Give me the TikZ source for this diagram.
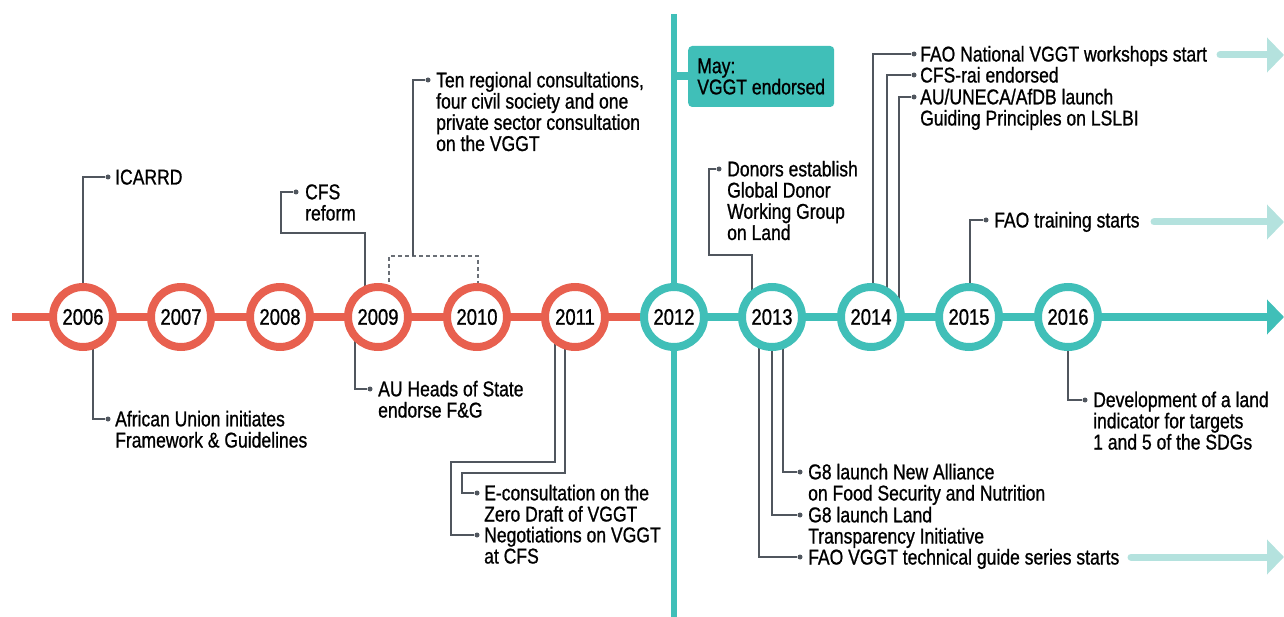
\documentclass[tikz,border=0pt]{standalone}
\usepackage{fontspec}
\setmainfont{Liberation Sans}[FakeStretch=0.82,FakeBold=0.9]
\usetikzlibrary{arrows.meta}
\definecolor{tred}{HTML}{E8604F}
\definecolor{tteal}{HTML}{40BFB8}
\definecolor{tlight}{HTML}{B4E2DE}
\definecolor{tconn}{HTML}{50565E}
\newcommand\labfont{\fontsize{21.4}{21.2}\selectfont}
\newcommand\yrfont{\fontsize{22.5}{22}\selectfont}
\pgfdeclarelayer{bg}\pgfsetlayers{bg,main}
\begin{document}
\begin{tikzpicture}[x=1pt,y=-1pt,
 yr/.style={circle, draw=#1, line width=8pt, fill=white, minimum size=60pt, inner sep=0pt, font=\yrfont},
 lab/.style={anchor=base west, align=left, inner sep=0pt, font=\labfont},
 conn/.style={draw=tconn, line width=1.4pt},
 dot/.style={circle, fill=tconn, inner sep=0pt, minimum size=5pt},
 lightarrow/.style={draw=tlight, line width=7pt, line cap=round, -{Triangle[length=17pt,width=34pt]}},
 mainline/.style={line width=7.5pt}]
\useasboundingbox (0,0) rectangle (1284,617);

% year circles
\node[yr=tred] (y2006) at (83,317) {2006};
\node[yr=tred] (y2007) at (181,317) {2007};
\node[yr=tred] (y2008) at (280,317) {2008};
\node[yr=tred] (y2009) at (378,317) {2009};
\node[yr=tred] (y2010) at (477,317) {2010};
\node[yr=tred] (y2011) at (575,317) {2011};
\node[yr=tteal] (y2012) at (674,317) {2012};
\node[yr=tteal] (y2013) at (772,317) {2013};
\node[yr=tteal] (y2014) at (871,317) {2014};
\node[yr=tteal] (y2015) at (969,317) {2015};
\node[yr=tteal] (y2016) at (1068,317) {2016};

\coordinate (lstart) at (12,317);
\coordinate (lend) at (1284,317);
\coordinate (vtop) at (674,14);
\coordinate (vbot) at (674,617);

% May box
\node[fill=tteal, rounded corners=4pt, minimum width=146pt, minimum height=61pt, inner sep=0pt, align=left, font=\labfont, anchor=west] (may) at (688,76.5) {May:\\VGGT endorsed};

% dots
\node[dot] (dICA) at (108,177) {};
\node[dot] (dAU) at (108,419) {};
\node[dot] (dCFS) at (296,192) {};
\node[dot] (dTen) at (428,80) {};
\node[dot] (dHeads) at (370,389) {};
\node[dot] (dEcon) at (477,493) {};
\node[dot] (dNeg) at (477,535) {};
\node[dot] (dDon) at (719,169) {};
\node[dot] (dG8a) at (800,472) {};
\node[dot] (dG8b) at (800,515) {};
\node[dot] (dTech) at (800,557) {};
\node[dot] (dNat) at (914,54) {};
\node[dot] (dRai) at (914,75) {};
\node[dot] (dUNECA) at (914,97) {};
\node[dot] (dTrain) at (986,220) {};
\node[dot] (dDev) at (1085,400) {};

% labels (anchor = baseline of last line)
\node[lab] (tICA) at (115,184.5) {ICARRD};
\node[lab] (tAU) at (115,447.5) {African Union initiates\\Framework \& Guidelines};
\node[lab] (tCFS) at (305,220.5) {CFS\\reform};
\node[lab] (tTen) at (436,151) {Ten regional consultations,\\four civil society and one\\private sector consultation\\on the VGGT};
\node[lab] (tHeads) at (378,417.5) {AU Heads of State\\endorse F\&G};
\node[lab] (tEcon) at (484,521.5) {E-consultation on the\\Zero Draft of VGGT};
\node[lab] (tNeg) at (484,563.5) {Negotiations on VGGT\\at CFS};
\node[lab] (tDon) at (727,240) {Donors establish\\Global Donor\\Working Group\\on Land};
\node[lab] (tG8a) at (808,500.5) {G8 launch New Alliance\\on Food Security and Nutrition};
\node[lab] (tG8b) at (808,543.5) {G8 launch Land\\Transparency Initiative};
\node[lab] (tTech) at (808,564.5) {FAO VGGT technical guide series starts};
\node[lab] (tNat) at (920,61.5) {FAO National VGGT workshops start};
\node[lab] (tRai) at (920,82.5) {CFS-rai endorsed};
\node[lab] (tUNECA) at (920,125.5) {AU/UNECA/AfDB launch\\Guiding Principles on LSLBI};
\node[lab] (tTrain) at (994,227.5) {FAO training starts};
\node[lab] (tDev) at (1093,449.5) {Development of a land\\indicator for targets\\1 and 5 of the SDGs};

% light arrows
\coordinate (aNat) at (1220,55);
\coordinate (aNatE) at (1284,55);
\coordinate (aTrain) at (1154,222);
\coordinate (aTrainE) at (1284,222);
\coordinate (aTech) at (1131,557);
\coordinate (aTechE) at (1284,557);
\draw[lightarrow] (aNat) -- (aNatE);
\draw[lightarrow] (aTrain) -- (aTrainE);
\draw[lightarrow] (aTech) -- (aTechE);

\begin{pgfonlayer}{bg}
 \draw[tred, mainline] (lstart) -- (y2012.center);
 \draw[tteal, mainline, -{Triangle[length=17pt,width=34pt]}] (y2012.center) -- (lend);
 \draw[tteal, line width=6pt] (vtop) -- (vbot);
 \draw[tteal, line width=8pt] (vtop |- may.west) -- (may.west);
 % connectors
 \draw[conn] (y2006.center) |- (dICA);
 \draw[conn] ([xshift=10pt]y2006.center) |- (dAU);
 \draw[conn] ([xshift=-13pt]y2009.center) -- ++(0,-84) -| (281,192) -- (dCFS);
 \draw[conn, dash pattern=on 4pt off 3pt, draw=tconn!85] ([xshift=11pt]y2009.center) |- (413,256) -| ([xshift=1pt]y2010.center);
 \draw[conn] (413,256) |- (dTen);
 \draw[conn] ([xshift=-23pt]y2009.center) |- (dHeads);
 \draw[conn] ([xshift=-10pt]y2011.center) |- (462,473) |- (dEcon);
 \draw[conn] ([xshift=-20pt]y2011.center) |- (451,462) |- (dNeg);
 \draw[conn] ([xshift=-20pt]y2013.center) -- ++(0,-62) -| (709,169) -- (dDon);
 \draw[conn] ([xshift=11pt]y2013.center) |- (dG8a);
 \draw[conn] (y2013.center) |- (dG8b);
 \draw[conn] ([xshift=-13pt]y2013.center) |- (dTech);
 \draw[conn] ([xshift=2pt]y2014.center) |- (dNat);
 \draw[conn] ([xshift=16pt]y2014.center) |- (dRai);
 \draw[conn] ([xshift=28pt]y2014.center) |- (dUNECA);
 \draw[conn] ([xshift=1pt]y2015.center) |- (dTrain);
 \draw[conn] (y2016.center) |- (dDev);
\end{pgfonlayer}
\end{tikzpicture}
\end{document}
